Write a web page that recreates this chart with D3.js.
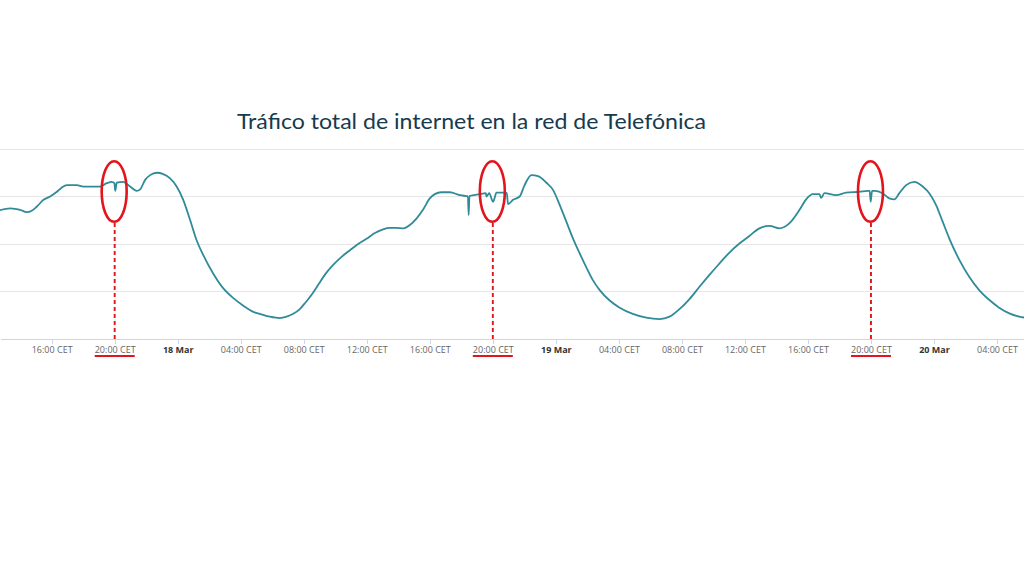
<!DOCTYPE html>
<html>
<head>
<meta charset="utf-8">
<script src="https://cdn.jsdelivr.net/npm/d3@7"></script>
<style>
  html, body { margin: 0; padding: 0; background: #fff; }
  svg { display: block; }
</style>
</head>
<body>
<svg id="chart" width="1024" height="576"></svg>
<script>
// ---------- DATA ----------
const title = "Tráfico total de internet en la red de Telefónica";

// Time stamps (CET) and traffic values (relative units, gridline = 1)
const times = [
  "2020-03-17 12:30","2020-03-17 13:22","2020-03-17 13:41","2020-03-17 14:00","2020-03-17 14:25",
  "2020-03-17 14:44","2020-03-17 15:04","2020-03-17 15:29","2020-03-17 15:54","2020-03-17 16:20",
  "2020-03-17 16:39","2020-03-17 16:58","2020-03-17 17:36","2020-03-17 18:01","2020-03-17 18:26",
  "2020-03-17 19:04","2020-03-17 19:30","2020-03-17 19:49","2020-03-17 19:59","2020-03-17 20:02",
  "2020-03-17 20:08","2020-03-17 20:33","2020-03-17 20:59","2020-03-17 21:24","2020-03-17 21:37",
  "2020-03-17 21:56","2020-03-17 22:15","2020-03-17 22:40","2020-03-17 23:05","2020-03-17 23:31",
  "2020-03-17 23:56","2020-03-18 00:21","2020-03-18 00:47","2020-03-18 01:12","2020-03-18 01:37",
  "2020-03-18 02:15","2020-03-18 02:53","2020-03-18 03:32","2020-03-18 04:10","2020-03-18 04:48",
  "2020-03-18 05:13","2020-03-18 05:51","2020-03-18 06:29","2020-03-18 06:55","2020-03-18 07:20",
  "2020-03-18 07:45","2020-03-18 08:04","2020-03-18 08:30","2020-03-18 08:55","2020-03-18 09:20",
  "2020-03-18 09:52","2020-03-18 10:24","2020-03-18 10:56","2020-03-18 11:27","2020-03-18 11:59",
  "2020-03-18 12:31","2020-03-18 13:02","2020-03-18 13:28","2020-03-18 13:53","2020-03-18 14:19",
  "2020-03-18 14:44","2020-03-18 15:10","2020-03-18 15:34","2020-03-18 16:00","2020-03-18 16:19",
  "2020-03-18 16:44","2020-03-18 17:16","2020-03-18 17:54","2020-03-18 18:20","2020-03-18 18:25",
  "2020-03-18 18:28","2020-03-18 18:31","2020-03-18 19:10","2020-03-18 19:33","2020-03-18 19:36",
  "2020-03-18 19:46","2020-03-18 20:01","2020-03-18 20:14","2020-03-18 20:45","2020-03-18 20:53",
  "2020-03-18 20:58","2020-03-18 21:17","2020-03-18 21:42","2020-03-18 22:01","2020-03-18 22:27",
  "2020-03-18 22:52","2020-03-18 23:24","2020-03-18 23:49","2020-03-19 00:15","2020-03-19 00:40",
  "2020-03-19 01:05","2020-03-19 01:31","2020-03-19 01:56","2020-03-19 02:21","2020-03-19 02:47",
  "2020-03-19 03:25","2020-03-19 04:03","2020-03-19 04:53","2020-03-19 05:44","2020-03-19 06:35",
  "2020-03-19 07:13","2020-03-19 07:51","2020-03-19 08:29","2020-03-19 09:07","2020-03-19 09:45",
  "2020-03-19 10:23","2020-03-19 11:01","2020-03-19 11:39","2020-03-19 12:17","2020-03-19 12:55",
  "2020-03-19 13:34","2020-03-19 14:11","2020-03-19 14:50","2020-03-19 15:28","2020-03-19 15:53",
  "2020-03-19 16:19","2020-03-19 16:44","2020-03-19 16:50","2020-03-19 17:03","2020-03-19 17:47",
  "2020-03-19 18:25","2020-03-19 19:16","2020-03-19 19:48","2020-03-19 19:55","2020-03-19 19:59",
  "2020-03-19 20:04","2020-03-19 20:13","2020-03-19 20:44","2020-03-19 21:10","2020-03-19 21:29",
  "2020-03-19 21:48","2020-03-19 22:14","2020-03-19 22:45","2020-03-19 23:17","2020-03-19 23:42",
  "2020-03-20 00:08","2020-03-20 00:33","2020-03-20 00:58","2020-03-20 01:37","2020-03-20 02:14",
  "2020-03-20 02:52","2020-03-20 03:31","2020-03-20 04:08","2020-03-20 04:47","2020-03-20 05:25",
  "2020-03-20 06:00"
];
const traffic = [
  2.69,2.75,2.74,2.72,2.67,
  2.70,2.79,2.93,3.00,3.10,
  3.19,3.24,3.24,3.21,3.21,
  3.21,3.28,3.31,3.28,3.12,
  3.29,3.31,3.21,3.12,3.15,
  3.35,3.45,3.50,3.47,3.38,
  3.21,2.93,2.51,2.08,1.77,
  1.38,1.07,0.86,0.70,0.57,
  0.53,0.47,0.44,0.47,0.53,
  0.63,0.75,0.93,1.14,1.35,
  1.56,1.73,1.87,2.00,2.11,
  2.23,2.31,2.34,2.34,2.33,
  2.40,2.54,2.72,2.96,3.05,
  3.09,3.09,3.03,3.01,3.01,
  2.61,3.01,3.05,3.07,3.00,
  3.07,2.89,3.08,3.08,3.07,
  2.84,2.93,3.00,3.24,3.45,
  3.43,3.29,3.14,2.82,2.47,
  2.12,1.80,1.51,1.24,1.03,
  0.81,0.66,0.53,0.45,0.42,
  0.47,0.63,0.84,1.10,1.35,
  1.59,1.82,2.01,2.17,2.33,
  2.38,2.33,2.44,2.72,2.94,
  3.05,3.05,2.97,3.07,3.03,
  3.08,3.10,3.12,3.12,2.89,
  3.12,3.12,3.07,2.96,2.94,
  3.07,3.24,3.31,3.21,3.07,
  2.82,2.47,2.12,1.66,1.31,
  1.03,0.82,0.66,0.54,0.47,
  0.44
];
const gridValues = [1, 2, 3, 4];
const highlightTimes = ["2020-03-17 20:00", "2020-03-18 20:00", "2020-03-19 20:00"];
const anchorTimes = ["2020-03-18 00:00", "2020-03-20 00:00"];

// ---------- SETUP ----------
const W = 1024, H = 576;
const parse = d3.utcParse("%Y-%m-%d %H:%M");
const data = times.map((t, i) => ({ t: parse(t), v: traffic[i] }));

const svg = d3.select("#chart");

// x scale anchored on the day marks, domain covering the visible width
const anchor = d3.scaleUtc().domain(anchorTimes.map(parse)).range([177.7, 934]);
const x = d3.scaleUtc().domain([anchor.invert(0), anchor.invert(W)]).range([0, W]);
const y = d3.scaleLinear().domain([0, 4]).range([339, 149]);

// gridlines
svg.append("g").selectAll("line").data(gridValues).join("line")
  .attr("x1", 0).attr("x2", W)
  .attr("y1", d => y(d)).attr("y2", d => y(d))
  .attr("stroke", "#e6e6e6").attr("stroke-width", 1)
  .attr("shape-rendering", "crispEdges");

// x axis
const fmtTime = d3.utcFormat("%H:%M CET");
const fmtDay = d3.utcFormat("%-d %b");
const xAxis = d3.axisBottom(x)
  .ticks(d3.utcHour.every(4))
  .tickSize(5).tickSizeOuter(0)
  .tickFormat(d => (d.getUTCHours() === 0 ? fmtDay(d) : fmtTime(d)));
const gx = svg.append("g").attr("transform", `translate(0,${y(0)})`).call(xAxis);
gx.select(".domain").attr("stroke", "#ccd6eb").attr("shape-rendering", "crispEdges");
gx.selectAll(".tick line").attr("stroke", "#ccd6eb").attr("shape-rendering", "crispEdges");
gx.selectAll(".tick text")
  .attr("y", 8)
  .attr("font-family", "'Open Sans', sans-serif")
  .attr("font-size", 9)
  .attr("fill", d => (d.getUTCHours() === 0 ? "#333" : "#666"))
  .attr("font-weight", d => (d.getUTCHours() === 0 ? "bold" : "normal"));

// line
const line = d3.line().x(d => x(d.t)).y(d => y(d.v)).curve(d3.curveMonotoneX);
svg.append("path").datum(data)
  .attr("d", line)
  .attr("fill", "none")
  .attr("stroke", "#2f8b98")
  .attr("stroke-width", 1.8)
  .attr("stroke-linejoin", "round");

// highlights (ellipse, dashed guide, underline)
const red = "#e3141b";
const hl = svg.append("g").selectAll("g").data(highlightTimes.map(parse)).join("g");
hl.append("ellipse")
  .attr("cx", d => x(d) - 0.5).attr("cy", 191.5)
  .attr("rx", 12.5).attr("ry", 30.3)
  .attr("fill", "none").attr("stroke", red).attr("stroke-width", 2.6);
hl.append("line")
  .attr("x1", d => x(d)).attr("x2", d => x(d))
  .attr("y1", 223).attr("y2", y(0))
  .attr("stroke", red).attr("stroke-width", 1.9)
  .attr("stroke-dasharray", "4,3");
hl.append("line")
  .attr("x1", d => x(d) - 20).attr("x2", d => x(d) + 20)
  .attr("y1", 356).attr("y2", 356)
  .attr("stroke", red).attr("stroke-width", 2);

// title
const tt = svg.append("text")
  .attr("x", 471.5).attr("y", 129)
  .attr("text-anchor", "middle")
  .attr("font-family", "Lato, 'Open Sans', sans-serif")
  .attr("font-size", 22)
  .attr("fill", "#163a4e")
  .text(title);
const len = tt.node().getComputedTextLength();
if (Math.abs(len - 469) > 2) tt.attr("textLength", 469).attr("lengthAdjust", "spacingAndGlyphs");
</script>
</body>
</html>
